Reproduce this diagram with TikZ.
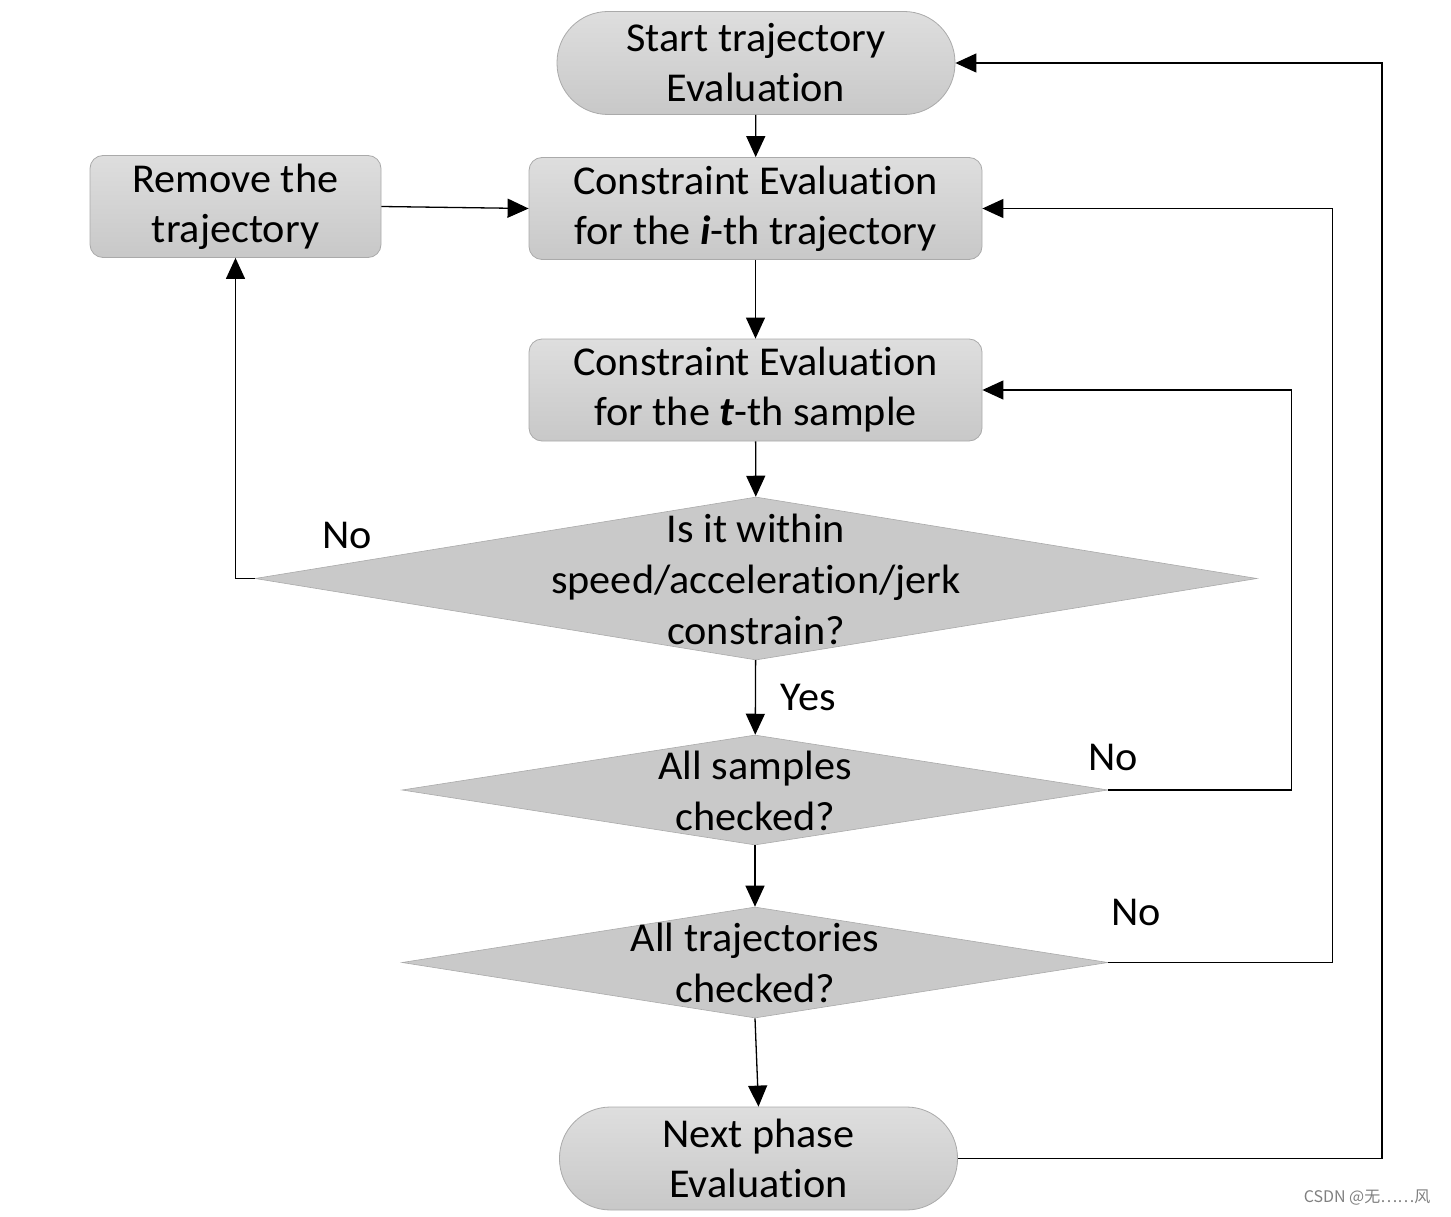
\documentclass[tikz,border=0pt]{standalone}
\usepackage{fontspec}
\setmainfont{Carlito}[Ligatures=NoCommon, FakeStretch=1.03]
\newfontfamily\cjkfont{Noto Sans CJK SC}
\usetikzlibrary{shapes.geometric,arrows.meta}
\definecolor{edgegray}{RGB}{170,170,170}
\definecolor{topgray}{RGB}{222,222,222}
\definecolor{botgray}{RGB}{200,200,200}
\definecolor{diagray}{RGB}{201,201,201}
\tikzset{
  txt/.style={font=\fontsize{41}{50}\selectfont, align=center},
  term/.style={rectangle, rounded corners=51pt, minimum width=398pt, minimum height=103pt,
    draw=edgegray, line width=0.8pt, top color=topgray, bottom color=botgray, txt, inner sep=0pt},
  procbox/.style={rectangle, rounded corners=13pt, minimum height=102pt,
    draw=edgegray, line width=0.8pt, top color=topgray, bottom color=botgray, txt, inner sep=0pt},
  dia/.style={diamond, draw=edgegray, line width=0.6pt, fill=diagray, inner sep=0pt},
  diatext/.style={font=\fontsize{41}{51}\selectfont, align=center, inner sep=0pt},
  lbl/.style={font=\fontsize{41}{44}\selectfont, inner sep=0pt},
  arr/.style={-{Triangle[length=21pt,width=19pt]}, line width=1.3pt}
}
\begin{document}
\begin{tikzpicture}[x=1pt,y=-1pt]
\useasboundingbox (0,0) rectangle (1451,1217);
% nodes
\node[term] (start) at (756,63) {Start trajectory\\Evaluation};
\node[procbox, minimum width=453pt] (c1) at (755.5,208.5) {Constraint Evaluation\\for the \textbf{\textit{i}}-th trajectory};
\node[procbox, minimum width=291pt] (rem) at (235.5,206.5) {Remove the\\trajectory};
\node[procbox, minimum width=453pt] (c2) at (755.5,390) {Constraint Evaluation\\for the \textbf{\textit{t}}-th sample};
\node[dia, minimum width=1002pt, minimum height=163pt] (d1) at (756,578.5) {};
\node[diatext] (d1t) at (756,579) {Is it within\\speed/acceleration/jerk\\constrain?};
\node[dia, minimum width=706pt, minimum height=110pt] (d2) at (755,790) {};
\node[diatext, text depth=0pt] (d2t) at (755,791) {All samples\\checked?};
\node[dia, minimum width=706pt, minimum height=111pt] (d3) at (755,962.5) {};
\node[diatext] (d3t) at (755,963) {All trajectories\\checked?};
\node[term] (next) at (758.5,1158.5) {Next phase\\Evaluation};
% labels
\node[lbl] (no1) at (347,535) {No};
\node[lbl] (yes) at (808,697) {Yes};
\node[lbl] (no2) at (1113,757) {No};
\node[lbl] (no3) at (1136,912) {No};
\node[font=\cjkfont\fontsize{16}{18}\selectfont, text=gray, inner sep=0pt] (wm) at (1367,1198) {CSDN @无……风};
% connectors
\draw[arr] (start) -- (c1);
\draw[arr] (rem.east) -- (c1.west);
\draw[arr] (c1) -- (c2);
\draw[arr] (c2) -- (d1);
\draw[arr] (d1.west) -| (rem.south);
\draw[arr] (d1) -- (d2);
\draw[arr] (d2.east) -- ++(183,0) |- (c2.east);
\draw[arr] (d2) -- (d3);
\draw[arr] (d3.east) -- ++(224,0) |- (c1.east);
\draw[arr] (d3.south) -- (next.north);
\draw[arr] (next.east) -- ++(424,0) |- (start.east);
\end{tikzpicture}
\end{document}
